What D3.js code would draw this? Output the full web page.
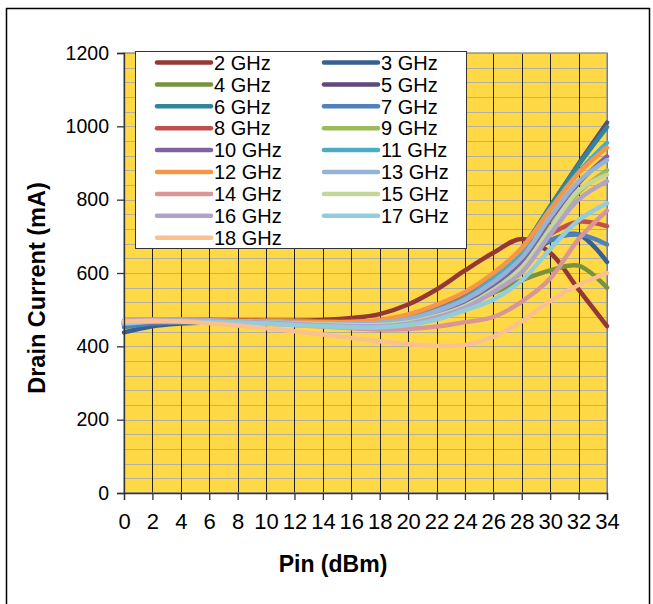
<!DOCTYPE html>
<html>
<head>
<meta charset="utf-8">
<script src="https://cdn.jsdelivr.net/npm/d3@7"></script>
<style>
  body { margin: 0; background: #fff; }
  text { font-family: "Liberation Sans", Arial, sans-serif; fill: #000; }
</style>
</head>
<body>
<script>
// Pin (dBm) sample points
var pin = [0, 2, 4, 6, 8, 10, 12, 14, 16, 18, 20, 22, 24, 26, 28, 30, 32, 34];

// drain current (mA), one array per frequency
var ma2  = [468,471,472,472,471,470,470,472,477,488,514,555,607,655,693,655,555,455];
var ma3  = [438,455,462,465,466,466,465,464,463,465,472,490,522,570,630,688,705,630];
var ma4  = [458,464,466,467,467,466,465,464,463,465,472,488,514,546,580,607,620,560];
var ma5  = [462,468,470,470,469,468,467,466,466,470,482,505,538,590,662,780,898,1010];
var ma6  = [460,467,469,469,468,467,466,465,465,469,481,505,540,594,667,782,895,998];
var ma7  = [452,462,466,467,467,466,465,464,463,466,474,494,528,578,638,690,705,678];
var ma8  = [464,469,470,470,469,468,467,466,466,469,478,500,536,590,652,706,740,728];
var ma9  = [463,469,470,469,467,465,463,461,460,462,470,490,521,565,625,722,820,880];
var ma10 = [460,466,467,466,465,464,462,460,459,461,470,491,522,568,632,745,845,918];
var ma11 = [461,467,468,468,467,466,465,463,462,465,476,499,532,585,662,775,875,955];
var ma12 = [466,471,472,471,470,469,468,467,467,472,487,513,548,600,668,772,872,942];
var ma13 = [464,469,470,469,468,466,464,462,461,464,474,496,527,575,642,752,850,908];
var ma14 = [469,472,472,470,466,462,458,454,449,446,447,454,466,480,522,585,692,770];
var ma15 = [467,471,471,470,468,465,462,460,458,458,465,483,510,553,615,720,825,868];
var ma16 = [469,473,473,471,468,465,461,458,455,455,462,479,505,548,602,705,800,850];
var ma17 = [463,468,469,467,465,462,458,455,452,452,458,473,498,528,580,665,744,790];
var ma18 = [468,470,468,463,457,449,441,432,423,414,406,401,404,426,468,524,567,600];

var freqs = ["2 GHz","3 GHz","4 GHz","5 GHz","6 GHz","7 GHz","8 GHz","9 GHz","10 GHz",
             "11 GHz","12 GHz","13 GHz","14 GHz","15 GHz","16 GHz","17 GHz","18 GHz"];
var yTicks = [0, 200, 400, 600, 800, 1000, 1200];
var xTicks = pin;

var colors = ["#953735","#376092","#77933C","#604A7B","#31859C","#4F81BD","#C0504D","#9BBB59",
              "#8064A2","#4BACC6","#F79646","#95B3D7","#D99694","#C3D69B","#B3A2C7","#93CDDD","#FAC090"];

var currents = [ma2,ma3,ma4,ma5,ma6,ma7,ma8,ma9,ma10,ma11,ma12,ma13,ma14,ma15,ma16,ma17,ma18];
var series = freqs.map(function(f, i) {
    return {name: f, color: colors[i], values: pin.map(function(p, j) { return {x: p, y: currents[i][j]}; })};
});

var W = 653, H = 604;
var plot = {left: 124, right: 607, top: 53, bottom: 493};

var svg = d3.select("body").append("svg")
    .attr("width", W)
    .attr("height", H);

svg.append("rect")
    .attr("x", 6.5).attr("y", 8.5)
    .attr("width", 643).attr("height", 600)
    .attr("fill", "#fff")
    .attr("stroke", "#000")
    .attr("stroke-width", 1.5);

var x = d3.scaleLinear().domain([0, 34]).range([plot.left, plot.right]);
var y = d3.scaleLinear().domain([0, 1200]).range([plot.bottom, plot.top]);

// plot area
svg.append("rect")
    .attr("x", plot.left).attr("y", plot.top)
    .attr("width", plot.right - plot.left).attr("height", plot.bottom - plot.top)
    .attr("fill", "#FFD945");

// minor horizontal grid, every 40 mA
svg.append("g").selectAll("line")
    .data(d3.range(40, 1201, 40))
    .enter().append("line")
    .attr("x1", plot.left).attr("x2", plot.right)
    .attr("y1", function(d) { return Math.round(y(d)) + 0.5; })
    .attr("y2", function(d) { return Math.round(y(d)) + 0.5; })
    .attr("stroke", "#B4B0A0")
    .attr("stroke-width", 1.2);

// vertical grid
svg.append("g").selectAll("line")
    .data(xTicks.slice(1))
    .enter().append("line")
    .attr("x1", function(d) { return Math.round(x(d)) + 0.5; })
    .attr("x2", function(d) { return Math.round(x(d)) + 0.5; })
    .attr("y1", plot.top).attr("y2", plot.bottom)
    .attr("stroke", "#222")
    .attr("stroke-width", 1);

svg.append("rect")
    .attr("x", plot.left).attr("y", plot.top)
    .attr("width", plot.right - plot.left).attr("height", plot.bottom - plot.top)
    .attr("fill", "none")
    .attr("stroke", "#999")
    .attr("stroke-width", 1.5);

var line = d3.line()
    .x(function(d) { return x(d.x); })
    .y(function(d) { return y(d.y); })
    .curve(d3.curveCatmullRom);

svg.append("g").selectAll("path")
    .data(series)
    .enter().append("path")
    .attr("d", function(d) { return line(d.values); })
    .attr("fill", "none")
    .attr("stroke", function(d) { return d.color; })
    .attr("stroke-width", 4.5)
    .attr("stroke-linecap", "round")
    .attr("stroke-linejoin", "round");

// axes
var yAxis = d3.axisLeft(y).tickValues(yTicks).tickFormat(d3.format("d")).tickSize(7).tickPadding(8);
var gy = svg.append("g")
    .attr("transform", "translate(" + plot.left + ",0)")
    .call(yAxis);
gy.selectAll("text").style("font-size", "19.5px");

var xAxis = d3.axisBottom(x).tickValues(xTicks).tickSize(7).tickPadding(13);
var gx = svg.append("g")
    .attr("transform", "translate(0," + plot.bottom + ")")
    .call(xAxis);
gx.selectAll("text").style("font-size", "22px");

[gx, gy].forEach(function(g) {
    g.select(".domain").attr("stroke", "#333").attr("stroke-width", 1.3);
    g.selectAll(".tick line").attr("stroke", "#333").attr("stroke-width", 1.3);
});

svg.append("text")
    .attr("x", 333).attr("y", 572)
    .attr("text-anchor", "middle")
    .style("font-size", "23px").style("font-weight", "bold")
    .text("Pin (dBm)");

svg.append("text")
    .attr("transform", "translate(45,288) rotate(-90)")
    .attr("text-anchor", "middle")
    .style("font-size", "23.5px").style("font-weight", "bold")
    .text("Drain Current (mA)");

// legend
var legend = svg.append("g");
legend.append("rect")
    .attr("x", 135.5).attr("y", 51.5)
    .attr("width", 331).attr("height", 197)
    .attr("fill", "#fff")
    .attr("stroke", "#333")
    .attr("stroke-width", 1);

var item = legend.selectAll("g.item")
    .data(series)
    .enter().append("g")
    .attr("class", "item")
    .attr("transform", function(d, i) {
        var col = i % 2, row = Math.floor(i / 2);
        return "translate(" + (157 + col * 167) + "," + (62.5 + row * 21.9) + ")";
    });

item.append("line")
    .attr("x1", 0).attr("x2", 54)
    .attr("stroke", function(d) { return d.color; })
    .attr("stroke-width", 4.5)
    .attr("stroke-linecap", "round");

item.append("text")
    .attr("x", 57).attr("dy", "0.36em")
    .style("font-size", "20px")
    .text(function(d) { return d.name; });
</script>
</body>
</html>
